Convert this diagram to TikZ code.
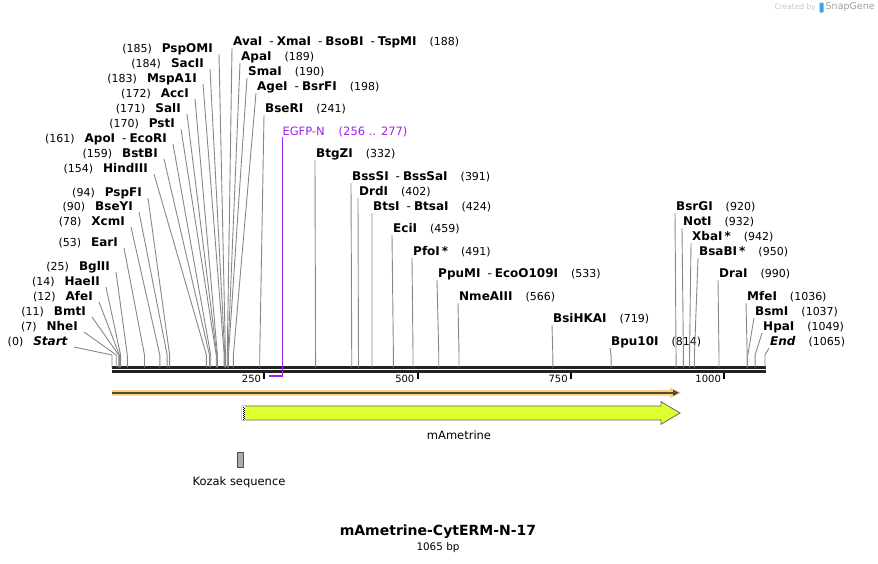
\documentclass[tikz,border=0pt]{standalone}
\usepackage{fontspec}
\setmainfont{DejaVu Sans}
\usepackage{tikz}
\usetikzlibrary{calc,positioning,arrows.meta}
\definecolor{sitegray}{RGB}{135,135,135}
\definecolor{barc}{RGB}{34,34,34}
\definecolor{egfp}{RGB}{160,32,240}
\definecolor{orfband}{RGB}{249,206,132}
\definecolor{orfline}{RGB}{90,72,55}
\definecolor{ametrine}{RGB}{224,255,46}
\definecolor{kozak}{RGB}{168,172,178}
\definecolor{snapblue}{RGB}{60,160,230}
\newcommand{\enz}[1]{{\fontsize{12}{14}\selectfont\bfseries #1}}
\newcommand{\sepd}{\hspace{7pt}{\mdseries -}\hspace{3pt}}

\begin{document}
\begin{tikzpicture}[x=1pt,y=-1pt,
  site/.style={draw=sitegray,line width=0.9pt},
  lbl/.style={inner sep=0pt,font=\fontsize{11}{13}\selectfont},
  tick/.style={draw=black,line width=2pt}]
\useasboundingbox (0,0) rectangle (878,563);

% sequence bar
\coordinate (b0) at (112,367.3);
\coordinate (b1) at (765.5,367.3);
\draw[barc,line width=2.7pt] (b0) -- (b1);
\draw[barc,line width=2.4pt] ([yshift=-4.2pt]b0) -- ([yshift=-4.2pt]b1);

% enzymes, left of the bar
\foreach \bp/\nm/\xe/\yy in {185/PspOMI/213/49, 184/SacII/204/64,
  183/MspA1I/197/79, 172/AccI/189/94, 171/SalI/181/109, 170/PstI/175/124,
  161/{ApoI\sepd EcoRI}/167/139, 159/BstBI/158/154, 154/HindIII/148/169,
  94/PspFI/142/193, 90/BseYI/133/207, 78/XcmI/125/222, 53/EarI/118/243,
  25/BglII/110/267, 14/HaeII/100/282, 12/AfeI/93/297, 11/BmtI/86/312,
  7/NheI/78/327, 0/\textit{Start}/68/342}{
  \node[lbl,anchor=east] (L\bp) at (\xe,\yy) {(\bp)\hspace{10pt}\enz{\nm}};
  \coordinate (s\bp) at ({112+0.6131*\bp},355);
  \draw[site] ($(L\bp.east)+(6,5)$) -- (s\bp) -- (s\bp |- b0);
}

% enzymes, above the bar
\foreach \bp/\nm/\xl/\yy in {188/{AvaI\sepd XmaI\sepd BsoBI\sepd TspMI}/233/42,
  189/ApaI/241/57, 190/SmaI/248/72, 198/{AgeI\sepd BsrFI}/257/87,
  241/BseRI/265/109, 332/BtgZI/316/154, 391/{BssSI\sepd BssSaI}/352/177,
  402/DrdI/359/192, 424/{BtsI\sepd BtsaI}/373/207, 459/EciI/393/229,
  491/PfoI\,*/413/252, 533/{PpuMI\sepd EcoO109I}/438/274,
  566/NmeAIII/459/297, 719/BsiHKAI/553/319, 814/Bpu10I/611/342,
  920/BsrGI/676/207, 932/NotI/683/222, 942/XbaI\,*/692/237,
  950/BsaBI\,*/699/252, 990/DraI/719/274, 1036/MfeI/747/297,
  1037/BsmI/755/312, 1049/HpaI/763/327, 1065/\textit{End}/770/342}{
  \node[lbl,anchor=west] (T\bp) at (\xl,\yy) {\enz{\nm}\hspace{13pt}(\bp)};
  \coordinate (s\bp) at ({112+0.6131*\bp},355);
  \draw[site] ($(T\bp.west)+(-1,6)$) -- (s\bp) -- (s\bp |- b0);
}

% ruler
\foreach \t in {250,500,750,1000}{
  \coordinate (k\t) at ({111+0.6131*\t},372.7);
  \draw[tick] (k\t) -- ++(0,6.5);
  \node[lbl,anchor=east,font=\fontsize{10}{12}\selectfont] (kl\t) at ($(k\t)+(-3,6.5)$) {\t};
}

% primer
\node[lbl,anchor=west,text=egfp,font=\fontsize{11.5}{13}\selectfont] (egfpN) at (282.3,132)
  {EGFP-N\hspace{14pt}(256 .. 277)};
\coordinate (p256) at ({112+0.6131*256},375.5);
\coordinate (p277) at (282.3,375.5);
\draw[egfp,line width=1.2pt] ($(egfpN.west)+(0,5)$) -- ($(p277)+(0,1.2)$);
\draw[egfp,line width=2pt] (p256) -- (p277);

% features
\fill[orfband] (112,390) -- (670,390) -- (670,387.5) -- (681,392.8)
  -- (670,398) -- (670,395.6) -- (112,395.6) -- cycle;
\draw[orfline,line width=2pt,-{Triangle[length=6pt,width=6pt]}] (112,392.8) -- (679,392.8);
\draw[draw=black!60,fill=ametrine,line width=0.8pt] (242,406) -- (661,406) -- (661,401.7)
  -- (680,413) -- (661,424.3) -- (661,420) -- (242,420) -- cycle;
\fill[white] (242.4,406.4) rectangle (244.6,419.6);
\draw[black,line width=0.8pt,dash pattern=on 1pt off 1pt] (243,406.5) -- (243,419.5);
\draw[black,line width=0.8pt,dash pattern=on 1pt off 1pt] (244.5,407.5) -- (244.5,419.5);
\node[font=\fontsize{11.5}{13}\selectfont] (ametL) at (459,435) {mAmetrine};
\draw[fill=kozak,draw=black!70,line width=0.8pt] (237.5,452.5) rectangle (243,467.5);
\node[font=\fontsize{11.5}{13}\selectfont] (kozakL) at (239,482) {Kozak sequence};

% title
\node[font=\fontsize{14}{16}\selectfont\bfseries] (title) at (438,532) {mAmetrine-CytERM-N-17};
\node[font=\fontsize{10.4}{12}\selectfont] (len) at (438,548) {1065 bp};

% credit
\node[anchor=east,text=gray!45,font=\fontsize{7.5}{9}\selectfont,inner sep=0pt] (made) at (816,7) {Created by};
\fill[snapblue,rounded corners=1pt] (819.5,2.5) rectangle (823.5,12.5);
\node[anchor=west,text=gray!75,font=\fontsize{9.5}{11}\selectfont,inner sep=0pt] (snap) at (825.5,7) {SnapGene};
\end{tikzpicture}
\end{document}
